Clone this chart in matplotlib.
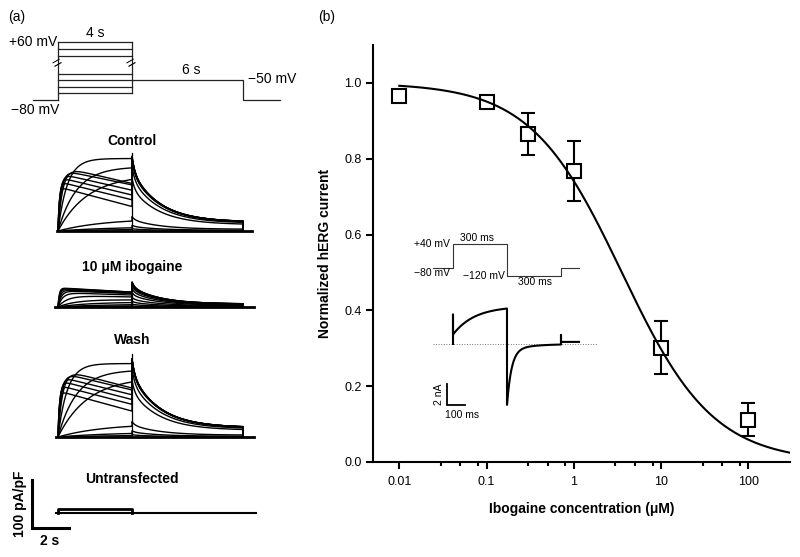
import numpy as np
import matplotlib
matplotlib.use("Agg")
import matplotlib.pyplot as plt
from matplotlib.ticker import FixedLocator, NullFormatter

plt.rcParams["font.family"] = ["Liberation Sans", "DejaVu Sans"]

W, H = 800, 557

# ---------------- data: panel (a) ----------------
# voltage protocol (mV) and timing (s)
step_mv = [60, 50, 40, -40, -50, -60, -70]
hold_mv = -80
tail_mv = -50
step_on, step_off, tail_off = 0.0, 4.0, 10.0

# currents in pA/pF, one entry per test step (-50 ... +60 mV)
act_tau = [3.0, 3.0, 2.5, 1.6, 1.0, 0.5, 0.25, 0.18, 0.13, 0.10, 0.08, 0.07]
ctrl_start = [4, 9, 26, 117, 134, 151, 135, 128, 120, 112, 103, 92]
ctrl_end = [4, 9, 26, 117, 134, 151, 99, 96, 85, 75, 65, 51]
ctrl_tail = [5, 12, 30, 110, 135, 150, 152, 153, 154, 155, 155, 156]
ctrl_spike = 162

ibo_start = [1, 3, 6, 10, 16, 24, 30, 34, 36, 38, 39, 40]
ibo_end = [1, 3, 6, 10, 15, 21, 25, 28, 29, 30, 31, 31]
ibo_tail = [2, 6, 12, 20, 30, 38, 44, 48, 50, 51, 52, 52]
ibo_spike = 52

wash_start = [4, 10, 28, 125, 140, 153, 142, 135, 126, 118, 108, 96]
wash_end = [4, 10, 28, 125, 140, 153, 102, 98, 88, 78, 68, 54]
wash_tail = [5, 13, 32, 118, 142, 158, 160, 161, 162, 162, 163, 163]
wash_spike = 172

unt_step = 8

# tail decay at -50 mV: fraction left, fast and slow parts (weight, tau in s)
tail_rest = 0.12
tail_fast_w, tail_fast_s = 0.20, 0.15
tail_slow_w, tail_slow_s = 0.68, 1.5

# ---------------- data: panel (b) ----------------
conc = [0.01, 0.1, 0.3, 1, 10, 100]
norm_current = [0.965, 0.95, 0.865, 0.768, 0.302, 0.112]
sem = [0.0, 0.0, 0.055, 0.08, 0.071, 0.043]
ic50 = 3.55
hill = 0.83

# inset protocol (ms, mV) and current (nA)
inset_t = [-110, 0, 300, 600, 700]
inset_mv = [-80, 40, -120, -80]
i_jump, i_on, i_ss, i_tau = 2.8, 0.9, 3.6, 120
tail_fast, tail_fast_tau = -5.2, 25
tail_slow, tail_slow_tau = -0.6, 120
end_jump, end_level = 0.86, 0.2


def px_axes(left, top, right, bottom):
    return fig.add_axes([left / W, 1 - bottom / H, (right - left) / W, (bottom - top) / H])


fig = plt.figure(figsize=(8, 5.57), dpi=100)

# ---------- (a) protocol ----------
K = 0.34  # compression of the broken part of the voltage axis


def v_fwd(v):
    v = np.asarray(v, dtype=float)
    return np.where(v < -40, v, np.where(v < 40, -40 + (v + 40) * K, -40 + 80 * K + (v - 40)))


def v_inv(y):
    y = np.asarray(y, dtype=float)
    top = -40 + 80 * K
    return np.where(y < -40, y, np.where(y < top, -40 + (y + 40) / K, 40 + (y - top)))


X0, SX, SY = 58, 18.5, 0.48  # step onset px, px per s, px per pA/pF
pxl = (-2.6, 12.5)
py_lo, py_hi = -90, 72.8
pa = px_axes(X0 + pxl[0] * SX, 100 - (float(v_fwd(py_hi)) + 80) * 0.66,
             X0 + pxl[1] * SX, 100 - (float(v_fwd(py_lo)) + 80) * 0.66)
pa.set_yscale("function", functions=(v_fwd, v_inv))
pa.set_xlim(pxl)
pa.set_ylim(py_lo, py_hi)
pa.axis("off")
lk = dict(color="#222222", lw=0.9)
for v in step_mv:
    pa.plot([step_on, step_off], [v, v], **lk)
pa.plot([step_on, step_on], [hold_mv, max(step_mv)], **lk)
pa.plot([step_off, step_off], [min(step_mv), max(step_mv)], **lk)
pa.plot([-1.35, step_on], [hold_mv, hold_mv], **lk)
pa.plot([step_off, tail_off, tail_off, 12.0], [tail_mv, tail_mv, hold_mv, hold_mv], **lk)
for tb in (step_on, step_off):
    pa.text(tb, 0, "=", ha="center", va="center", fontsize=12, rotation=30)
pa.text(step_on - 0.05, max(step_mv), "+60 mV", ha="right", va="center", fontsize=10)
pa.text(step_on + 0.1, hold_mv - 4, "\u221280 mV", ha="right", va="top", fontsize=10)
pa.text((step_on + step_off) / 2, max(step_mv) + 4, "4 s", ha="center", va="bottom", fontsize=10)
pa.text(7.2, tail_mv + 5, "6 s", ha="center", va="bottom", fontsize=10)
pa.text(10.25, tail_mv + 2, "\u221250 mV", ha="left", va="center", fontsize=10)
fig.text(8 / W, 1 - 17 / H, "(a)", ha="left", va="center", fontsize=10)


# ---------- (a) current traces ----------
txl, tyl = (-2.6, 11), (-70, 210)
t_step = np.linspace(step_on, step_off, 400)
t_tail = np.linspace(step_off, tail_off, 500)


def trace_axes(base_px):
    ax = px_axes(X0 + txl[0] * SX, base_px - tyl[1] * SY, X0 + txl[1] * SX, base_px - tyl[0] * SY)
    ax.set_xlim(txl)
    ax.set_ylim(tyl)
    ax.axis("off")
    return ax


def trace_panel(base_px, starts, ends, tails, spike, label, label_y, span):
    ax = trace_axes(base_px)
    ax.plot(span, [0, 0], color="k", lw=2)
    dt = t_tail - step_off
    decay = (tail_rest + tail_fast_w * np.exp(-dt / tail_fast_s)
             + tail_slow_w * np.exp(-dt / tail_slow_s))
    for s, e, a, tau in zip(starts, ends, tails, act_tau):
        drift = s + (e - s) * t_step / step_off
        i_step = drift * (1 - np.exp(-t_step / tau))
        x = np.concatenate([t_step, t_tail, [tail_off]])
        y = np.concatenate([i_step, a * decay, [0]])
        ax.plot(x, y, color="k", lw=1.0)
    ax.plot([step_off, step_off], [0, spike], color="k", lw=0.9)
    ax.text(step_off, label_y, label, ha="center", va="center", fontsize=10, fontweight="bold")
    return ax


trace_panel(231, ctrl_start, ctrl_end, ctrl_tail, ctrl_spike, "Control", 187, [-0.05, 10.5])
trace_panel(307, ibo_start, ibo_end, ibo_tail, ibo_spike, "10 \u03bcM ibogaine", 83, [-0.15, 10.6])
trace_panel(437, wash_start, wash_end, wash_tail, wash_spike, "Wash", 202, [-0.1, 10.6])

ua = trace_axes(513)
ua.plot([-0.1, 10.7], [0, 0], color="k", lw=1.5)
ua.plot([step_on, step_on, step_off, step_off], [0, unt_step, unt_step, 0], color="k", lw=2)
ua.text(step_off, 71, "Untransfected", ha="center", va="center", fontsize=10, fontweight="bold")
# scale bar 100 pA/pF, 2 s
ua.plot([-1.41, -1.41, 0.59], [69, -31, -31], color="k", lw=2.2, solid_joinstyle="miter")
ua.text(-2.05, 19, "100 pA/pF", rotation=90, ha="center", va="center", fontsize=10, fontweight="bold")
ua.text(-0.43, -44, "2 s", ha="center", va="top", fontsize=10, fontweight="bold")

# ---------- (b) concentration-response ----------
ax = px_axes(373, 45, 790, 462)
ax.set_xscale("log")
ax.set_xlim(0.005, 300)
ax.set_ylim(0, 1.1)
for side in ("top", "right"):
    ax.spines[side].set_visible(False)
for side in ("left", "bottom"):
    ax.spines[side].set_linewidth(1.5)

xc = np.logspace(-2, np.log10(300), 300)
ax.plot(xc, 1 / (1 + (xc / ic50) ** hill), color="k", lw=1.5, zorder=4)

conc_a, cur_a, sem_a = np.array(conc), np.array(norm_current), np.array(sem)
has_err = sem_a > 0
ax.errorbar(conc_a[has_err], cur_a[has_err], yerr=sem_a[has_err], fmt="none",
            ecolor="k", elinewidth=1.5, capsize=4.8, capthick=1.5, zorder=2)
ax.plot(conc_a, cur_a, "s", ms=9.5, mfc="white", mec="k", mew=1.5, zorder=3)

ax.set_xticks([0.01, 0.1, 1, 10, 100])
ax.set_xticklabels(["0.01", "0.1", "1", "10", "100"])
minor = [m * d for d in (0.01, 0.1, 1, 10) for m in (3, 5, 8)]
ax.xaxis.set_minor_locator(FixedLocator(minor))
ax.xaxis.set_minor_formatter(NullFormatter())
ax.set_yticks([0.0, 0.2, 0.4, 0.6, 0.8, 1.0])
ax.set_yticklabels(["0.0", "0.2", "0.4", "0.6", "0.8", "1.0"])
ax.tick_params(axis="both", which="major", length=5, width=1.5, labelsize=9)
ax.tick_params(axis="x", which="major", pad=5)
ax.tick_params(axis="y", which="major", pad=3)
ax.tick_params(axis="x", which="minor", length=3, width=1.5)
ax.set_xlabel("Ibogaine concentration (\u03bcM)", fontsize=10, fontweight="bold", labelpad=10)
ax.set_ylabel("Normalized hERG current", fontsize=10, fontweight="bold", labelpad=9)
fig.text(318 / W, 1 - 17 / H, "(b)", ha="left", va="center", fontsize=10)

# ---------- (b) inset: protocol ----------
IX0, ISX = 453, 0.18
ixl = (-120, 820)
va = px_axes(IX0 + ixl[0] * ISX, 252 - 60 * 0.2, IX0 + ixl[1] * ISX, 252 + 140 * 0.2)
va.set_xlim(ixl)
va.set_ylim(-140, 60)
va.axis("off")
va.step(inset_t, [inset_mv[0]] + inset_mv, where="pre", color="#333333", lw=0.8)
va.text(-15, 40, "+40 mV", ha="right", va="center", fontsize=7.5)
va.text(-15, -80, "\u221280 mV", ha="right", va="top", fontsize=7.5)
va.text(288, -120, "\u2212120 mV", ha="right", va="center", fontsize=7.5)
va.text(133, 44, "300 ms", ha="center", va="bottom", fontsize=7.5)
va.text(455, -126, "300 ms", ha="center", va="top", fontsize=7.5)

# ---------- (b) inset: current ----------
ia = px_axes(IX0 + ixl[0] * ISX, 344 - 4.5 * 10.5, IX0 + ixl[1] * ISX, 344 + 8 * 10.5)
ia.set_xlim(ixl)
ia.set_ylim(-8, 4.5)
ia.axis("off")
ia.plot([-110, 800], [0, 0], color="#777777", lw=0.7, ls=":")
t1 = np.linspace(0, 300, 200)
i1 = i_on + (i_ss - i_on) * (1 - np.exp(-t1 / i_tau))
t2 = np.linspace(300, 600, 400)
i2 = tail_fast * np.exp(-(t2 - 300) / tail_fast_tau) + tail_slow * np.exp(-(t2 - 300) / tail_slow_tau)
xs = np.concatenate([[0, 0], t1, t2, [600, 600, 700]])
ys = np.concatenate([[0, i_jump], i1, i2, [end_jump, end_level, end_level]])
ia.plot(xs, ys, color="k", lw=1.5)
# scale bar 2 nA, 100 ms
ia.plot([-33, -33, 67], [-3.8, -5.8, -5.8], color="k", lw=1.3, solid_joinstyle="miter")
ia.text(-75, -4.8, "2 nA", rotation=90, ha="center", va="center", fontsize=7.5)
ia.text(50, -6.3, "100 ms", ha="center", va="top", fontsize=7.5)

fig.savefig("out.png", dpi=100)
